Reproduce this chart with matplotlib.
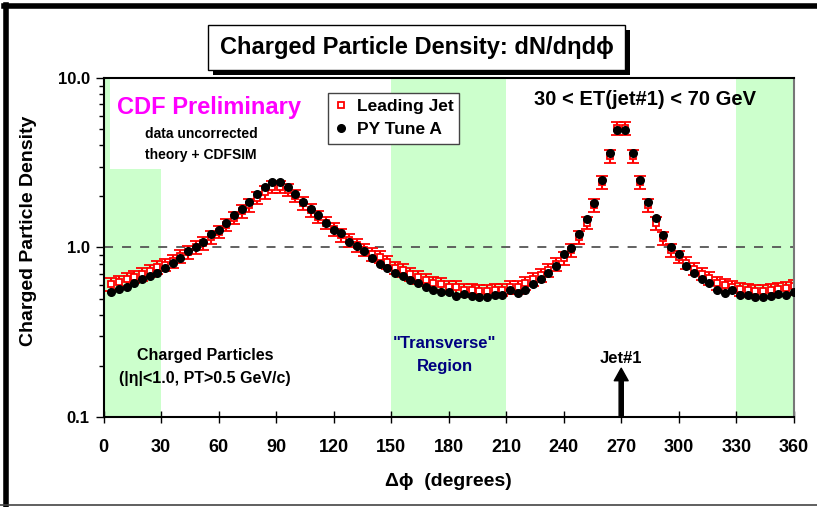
import numpy as np
import matplotlib.pyplot as plt
from matplotlib.patches import Rectangle
from matplotlib.lines import Line2D
from matplotlib.ticker import NullFormatter

plt.rcParams['font.family'] = ['Liberation Sans', 'DejaVu Sans']
plt.rcParams['font.weight'] = 'bold'
plt.rcParams['axes.labelweight'] = 'bold'

# delta phi bin centres (degrees), 4 degree bins
dphi = np.arange(4, 361, 4)

# Leading Jet data (red open squares)
leading_jet = np.array([
    0.605, 0.625, 0.648, 0.672, 0.697, 0.729, 0.763, 0.791, 0.832, 0.891,
    0.94, 1.00, 1.06, 1.15, 1.24, 1.36, 1.50, 1.64, 1.78, 1.96,
    2.12, 2.28, 2.28, 2.19, 2.02, 1.83, 1.66, 1.52, 1.40, 1.28,
    1.18, 1.10, 1.03, 0.97, 0.915, 0.88, 0.818, 0.76, 0.733, 0.694,
    0.669, 0.645, 0.616, 0.605, 0.581, 0.581, 0.558, 0.558, 0.555, 0.555,
    0.558, 0.563, 0.581, 0.584, 0.616, 0.651, 0.688, 0.736, 0.795, 0.866,
    0.966, 1.15, 1.40, 1.78, 2.42, 3.45, 5.06, 5.06, 3.45, 2.42,
    1.77, 1.39, 1.13, 0.966, 0.88, 0.813, 0.75, 0.70, 0.657, 0.614,
    0.597, 0.586, 0.566, 0.558, 0.553, 0.553, 0.56, 0.566, 0.573, 0.592])
rel_err = 0.085

# PYTHIA Tune A (black dots)
py_tune_a = np.array([
    0.543, 0.566, 0.586, 0.614, 0.648, 0.676, 0.703, 0.756, 0.806, 0.867,
    0.953, 1.01, 1.08, 1.20, 1.26, 1.40, 1.55, 1.69, 1.85, 2.07,
    2.28, 2.44, 2.44, 2.28, 2.07, 1.85, 1.69, 1.55, 1.40, 1.27,
    1.21, 1.08, 1.02, 0.957, 0.867, 0.80, 0.76, 0.71, 0.68, 0.645,
    0.616, 0.584, 0.563, 0.543, 0.545, 0.519, 0.529, 0.514, 0.507, 0.507,
    0.521, 0.521, 0.561, 0.540, 0.558, 0.61, 0.648, 0.706, 0.774, 0.916,
    0.99, 1.20, 1.47, 1.84, 2.50, 3.61, 4.96, 4.96, 3.61, 2.51,
    1.85, 1.49, 1.19, 1.00, 0.913, 0.774, 0.71, 0.648, 0.616, 0.558,
    0.540, 0.561, 0.521, 0.526, 0.509, 0.509, 0.519, 0.531, 0.521, 0.548])

regions = [(0, 30), (150, 210), (330, 360)]
xticks = list(range(0, 361, 30))

fig = plt.figure(figsize=(8.17, 5.07), dpi=100)
ax = fig.add_axes([0.1269, 0.1775, 0.8446, 0.6687])

for a, b in regions:
    ax.axvspan(a, b, color='#CCFFCC', lw=0, zorder=0)
# white box behind the "CDF Preliminary" text
ax.add_patch(Rectangle((3.3, 2.9), 40, 8, facecolor='white', edgecolor='none', zorder=0.5))

ax.axhline(1.0, color='#555555', ls=(0, (5, 5)), lw=1.3, zorder=1)

eb = ax.errorbar(dphi, leading_jet, yerr=rel_err * leading_jet, fmt='s', mfc='white',
                 mec='red', ms=5, mew=1.3, ecolor='red', elinewidth=1.5,
                 capsize=4, capthick=1.5, zorder=2)
dots, = ax.plot(dphi, py_tune_a, 'o', color='black', ms=5.5, zorder=3)

ax.set_yscale('log')
ax.set_ylim(0.1, 10)
ax.set_xlim(0, 360)
ax.set_xticks(xticks)
ax.set_yticks([0.1, 1, 10])
ax.set_yticklabels(['0.1', '1.0', '10.0'])
ax.yaxis.set_minor_formatter(NullFormatter())
ax.tick_params(axis='x', direction='inout', length=9, width=1, pad=11, labelsize=13)
ax.tick_params(axis='y', which='major', direction='out', length=6, width=1, labelsize=12, pad=4)
ax.tick_params(axis='y', which='minor', direction='out', length=3.5, width=1)
for s in ['left', 'bottom', 'top']:
    ax.spines[s].set_linewidth(1.5)
ax.spines['right'].set_color('#777777')
ax.spines['right'].set_linewidth(1.5)

ax.set_ylabel('Charged Particle Density', fontsize=14, fontweight='bold')
ax.yaxis.set_label_coords(-0.097, 0.55)
ax.set_xlabel('\u0394\u03d5  (degrees)', fontsize=14, fontweight='bold')
ax.xaxis.set_label_coords(0.5, -0.165)

ax.legend([eb[0], dots], ['Leading Jet', 'PY Tune A'], loc='upper left',
          bbox_to_anchor=(0.325, 0.955), fontsize=12.5, fancybox=False,
          edgecolor='#444444', framealpha=1, handlelength=0.8, handletextpad=0.5,
          borderpad=0.35, labelspacing=0.45, borderaxespad=0)

ax.text(55, 6.68, 'CDF Preliminary', color='#FF00FF', fontsize=17, ha='center', va='center')
ax.text(21.6, 4.69, 'data uncorrected', fontsize=10, ha='left', va='center')
ax.text(21.6, 3.53, 'theory + CDFSIM', fontsize=10, ha='left', va='center')
ax.text(282.4, 7.46, '30 < ET(jet#1) < 70 GeV', fontsize=14.5, ha='center', va='center')
ax.text(53, 0.231, 'Charged Particles', fontsize=11.5, ha='center', va='center')
ax.text(53, 0.169, '(|\u03b7|<1.0, PT>0.5 GeV/c)', fontsize=11.5, ha='center', va='center')
ax.text(178, 0.272, '"Transverse"', color='#000080', fontsize=12, ha='center', va='center')
ax.text(178, 0.199, 'Region', color='#000080', fontsize=12, ha='center', va='center')
ax.text(270, 0.222, 'Jet#1', fontsize=12, ha='center', va='center')
ax.annotate('', xy=(270, 0.194), xytext=(270, 0.1),
            arrowprops=dict(facecolor='black', edgecolor='black', width=3,
                            headwidth=10, headlength=9, shrink=0))

# title box with shadow
fig.add_artist(Rectangle((0.2607, 0.852), 0.511, 0.089, transform=fig.transFigure,
                         facecolor='black', edgecolor='none'))
fig.add_artist(Rectangle((0.2546, 0.862), 0.511, 0.089, transform=fig.transFigure,
                         facecolor='white', edgecolor='black', lw=1))
fig.text(0.51, 0.906, 'Charged Particle Density: dN/d\u03b7d\u03d5', fontsize=17,
         ha='center', va='center')

# slide frame
fig.add_artist(Line2D([0.0073, 0.0073], [0.004, 0.99], lw=4, color='black'))
fig.add_artist(Line2D([0.005, 1.0], [0.988, 0.988], lw=4, color='black'))
fig.add_artist(Line2D([0.0, 1.0], [0.004, 0.004], lw=1.2, color='#444444'))

fig.savefig('out.png', dpi=100)
